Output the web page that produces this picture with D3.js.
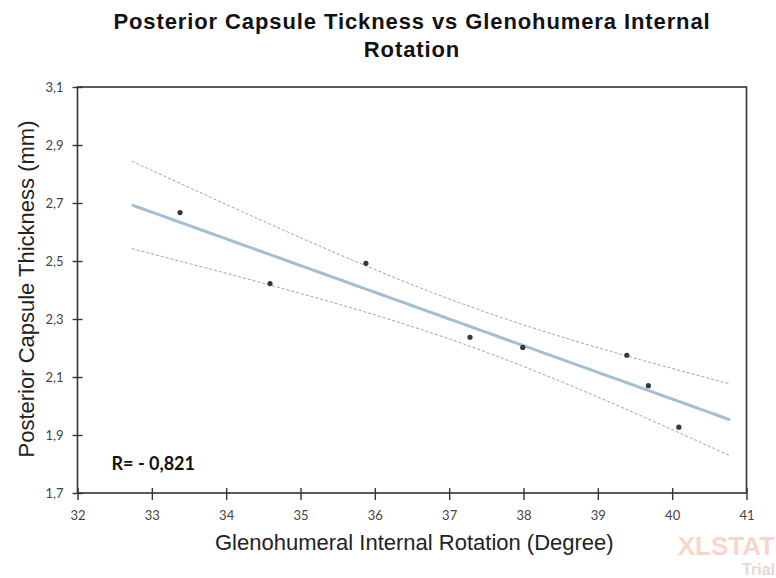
<!DOCTYPE html>
<html>
<head>
<meta charset="utf-8">
<script src="https://cdn.jsdelivr.net/npm/d3@7"></script>
<style>
  body { margin: 0; background: #fff; }
  svg { display: block; }
</style>
</head>
<body>
<script>
// data
var rotation = [33.38, 34.59, 35.88, 37.28, 37.99, 39.39, 39.68, 40.09];
var thickness = [2.667, 2.422, 2.492, 2.237, 2.202, 2.175, 2.070, 1.927];
var xTicks = [32, 33, 34, 35, 36, 37, 38, 39, 40, 41];
var yTicks = [1.7, 1.9, 2.1, 2.3, 2.5, 2.7, 2.9, 3.1];
var fitRange = [32.73, 40.78];
var titleLines = ["Posterior Capsule Tickness vs Glenohumera Internal", "Rotation"];
var rLabel = "R= - 0,821";

var svgWidth = 776;
var svgHeight = 578;
var margin = { top: 87, right: 29.5, bottom: 85, left: 77.5 };
var width = svgWidth - margin.left - margin.right;
var height = svgHeight - margin.top - margin.bottom;

var svg = d3.select("body").append("svg")
  .attr("width", svgWidth)
  .attr("height", svgHeight);

var chartGroup = svg.append("g")
  .attr("transform", `translate(${margin.left}, ${margin.top})`);

var xscale = d3.scaleLinear().domain([32, 41]).range([0, width]);
var yscale = d3.scaleLinear().domain([1.7, 3.1]).range([height, 0]);

// linear fit + 95% confidence band of the mean
var n = rotation.length;
var mx = d3.mean(rotation), my = d3.mean(thickness);
var sxx = d3.sum(rotation, d => (d - mx) * (d - mx));
var sxy = d3.sum(rotation, (d, i) => (d - mx) * (thickness[i] - my));
var slope = sxy / sxx;
var icpt = my - slope * mx;
var sse = d3.sum(rotation, (d, i) => Math.pow(thickness[i] - (icpt + slope * d), 2));
var s = Math.sqrt(sse / (n - 2));
var tval = 2.447; // t(0.975, 6)

var fitX = d3.range(0, 61).map(i => fitRange[0] + (fitRange[1] - fitRange[0]) * i / 60);
var band = fitX.map(function(x) {
  var y = icpt + slope * x;
  var h = tval * s * Math.sqrt(1 / n + (x - mx) * (x - mx) / sxx);
  return { x: x, y: y, lo: y - h, hi: y + h };
});

var line = d3.line().x(d => xscale(d.x));

chartGroup.append("path")
  .datum(band)
  .attr("fill", "none")
  .attr("stroke", "#a3a3a3")
  .attr("stroke-width", 1)
  .attr("stroke-dasharray", "3,2")
  .attr("d", line.y(d => yscale(d.hi)));

chartGroup.append("path")
  .datum(band)
  .attr("fill", "none")
  .attr("stroke", "#a3a3a3")
  .attr("stroke-width", 1)
  .attr("stroke-dasharray", "3,2")
  .attr("d", line.y(d => yscale(d.lo)));

chartGroup.append("path")
  .datum(band)
  .attr("fill", "none")
  .attr("stroke", "#a2bfd3")
  .attr("stroke-width", 3)
  .attr("d", line.y(d => yscale(d.y)));

// points
chartGroup.selectAll("circle")
  .data(rotation)
  .enter()
  .append("circle")
  .attr("cx", d => xscale(d))
  .attr("cy", (d, i) => yscale(thickness[i]))
  .attr("r", 2.6)
  .attr("fill", "#2e3b3f");

// frame
chartGroup.append("rect")
  .attr("width", width)
  .attr("height", height)
  .attr("fill", "none")
  .attr("stroke", "#333")
  .attr("stroke-width", 1.6);

// axes
var bottomAxis = d3.axisBottom(xscale).tickValues(xTicks).tickSize(0).tickFormat(d3.format("d"));
var leftAxis = d3.axisLeft(yscale).tickValues(yTicks).tickSize(0)
  .tickFormat(d => d3.format(".1f")(d).replace(".", ","));

var xg = chartGroup.append("g")
  .attr("transform", `translate(0, ${height})`)
  .call(bottomAxis);
xg.select(".domain").remove();
xg.selectAll(".tick line").remove();
xg.selectAll(".tick").append("line")
  .attr("y1", -5).attr("y2", 7)
  .attr("stroke", "#333").attr("stroke-width", 1.4);
xg.selectAll(".tick text")
  .attr("y", 18)
  .attr("dy", "0.71em")
  .style("font-family", "Lato, 'Open Sans', sans-serif")
  .style("font-size", "13px")
  .attr("fill", "#444");

var yg = chartGroup.append("g").call(leftAxis);
yg.select(".domain").remove();
yg.selectAll(".tick line").remove();
yg.selectAll(".tick").append("line")
  .attr("x1", -5).attr("x2", 5)
  .attr("stroke", "#333").attr("stroke-width", 1.4);
yg.selectAll(".tick text")
  .attr("x", -14)
  .style("font-family", "Lato, 'Open Sans', sans-serif")
  .style("font-size", "13px")
  .attr("fill", "#444");

// titles
svg.append("text")
  .attr("text-anchor", "middle")
  .style("font-family", "'Liberation Sans', Arial, sans-serif")
  .style("font-weight", "bold")
  .style("font-size", "22px")
  .style("letter-spacing", "0.9px")
  .attr("fill", "#111")
  .selectAll("tspan")
  .data(titleLines)
  .enter()
  .append("tspan")
  .attr("x", 412)
  .attr("y", (d, i) => 29 + i * 28)
  .text(d => d);

chartGroup.append("text")
  .attr("transform", "rotate(-90)")
  .attr("x", 0 - (289 - margin.top))
  .attr("y", 0 - margin.left + 34)
  .attr("text-anchor", "middle")
  .style("font-family", "'Liberation Sans', Arial, sans-serif")
  .style("font-size", "22px")
  .attr("fill", "#222")
  .text("Posterior Capsule Thickness (mm)");

chartGroup.append("text")
  .attr("x", 215 - margin.left)
  .attr("y", 550 - margin.top)
  .style("font-family", "'Liberation Sans', Arial, sans-serif")
  .style("font-size", "22px")
  .attr("fill", "#222")
  .text("Glenohumeral Internal Rotation (Degree)");

chartGroup.append("text")
  .attr("x", 34)
  .attr("y", height - 23)
  .style("font-family", "Lato, 'Open Sans', sans-serif")
  .style("font-weight", "bold")
  .style("font-size", "18px")
  .attr("fill", "#111")
  .text(rLabel);

// watermark
svg.append("text")
  .attr("x", 775)
  .attr("y", 555)
  .attr("text-anchor", "end")
  .style("font-family", "'Liberation Sans', Arial, sans-serif")
  .style("font-weight", "bold")
  .style("font-size", "26px")
  .attr("fill", "#f6d8ca")
  .text("XLSTAT");

svg.append("text")
  .attr("x", 775)
  .attr("y", 575)
  .attr("text-anchor", "end")
  .style("font-family", "'Liberation Sans', Arial, sans-serif")
  .style("font-weight", "bold")
  .style("font-size", "16px")
  .attr("fill", "#e6d8cf")
  .text("Trial");
</script>
</body>
</html>
